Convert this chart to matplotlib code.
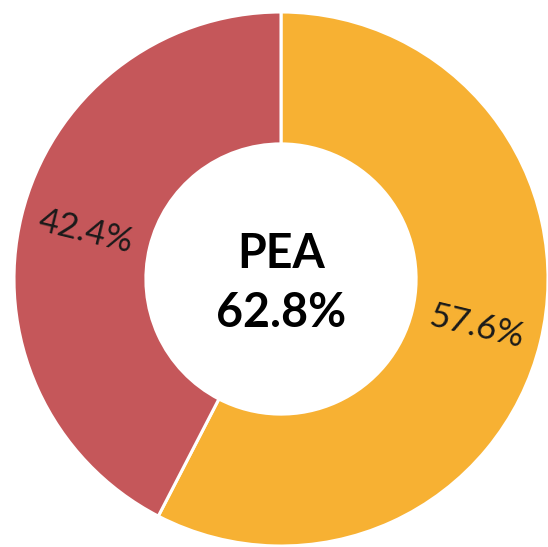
import matplotlib
matplotlib.use("Agg")
import matplotlib.pyplot as plt
import numpy as np

categories = ["Yes", "No"]
values = [57.6, 42.4]
colors = ["#F7B133", "#C5575A"]
center_title = "PEA"
center_value = "62.8%"

W, H = 548, 547
fig = plt.figure(figsize=(W / 100, H / 100), dpi=100)
cx, cy, r = 281, 279, 267
ax = fig.add_axes([(cx - r) / W, (H - cy - r) / H, 2 * r / W, 2 * r / H])

wedges, texts = ax.pie(values, colors=colors, startangle=90, counterclock=False,
                       radius=1, wedgeprops=dict(width=0.494, edgecolor="white", linewidth=2.2),
                       frame=False)
ax.set_xlim(-1, 1)
ax.set_ylim(-1, 1)
ax.set_aspect("auto")
ax.axis("off")

start = 90.0
total = sum(values)
for v in values:
    ang = start - v / total * 360 / 2
    start -= v / total * 360
    rr = 0.753
    x = rr * np.cos(np.radians(ang))
    y = rr * np.sin(np.radians(ang))
    rot = ang
    if rot > 90 or rot < -90:
        rot += 180
    rot = ((rot + 180) % 360) - 180
    ax.text(x, y, f"{v:.1f}%", ha="center", va="center", rotation=rot,
            rotation_mode="anchor", fontsize=25, family="Lato", color="#1a1a1a")

ax.text(0, 0.041, center_title, ha="center", va="baseline", fontsize=33.5,
        fontweight="bold", family="Lato", color="black")
ax.text(0, -0.18, center_value, ha="center", va="baseline", fontsize=33.5,
        fontweight="bold", family="Lato", color="black")

fig.savefig("out.png", dpi=100, facecolor="white")
